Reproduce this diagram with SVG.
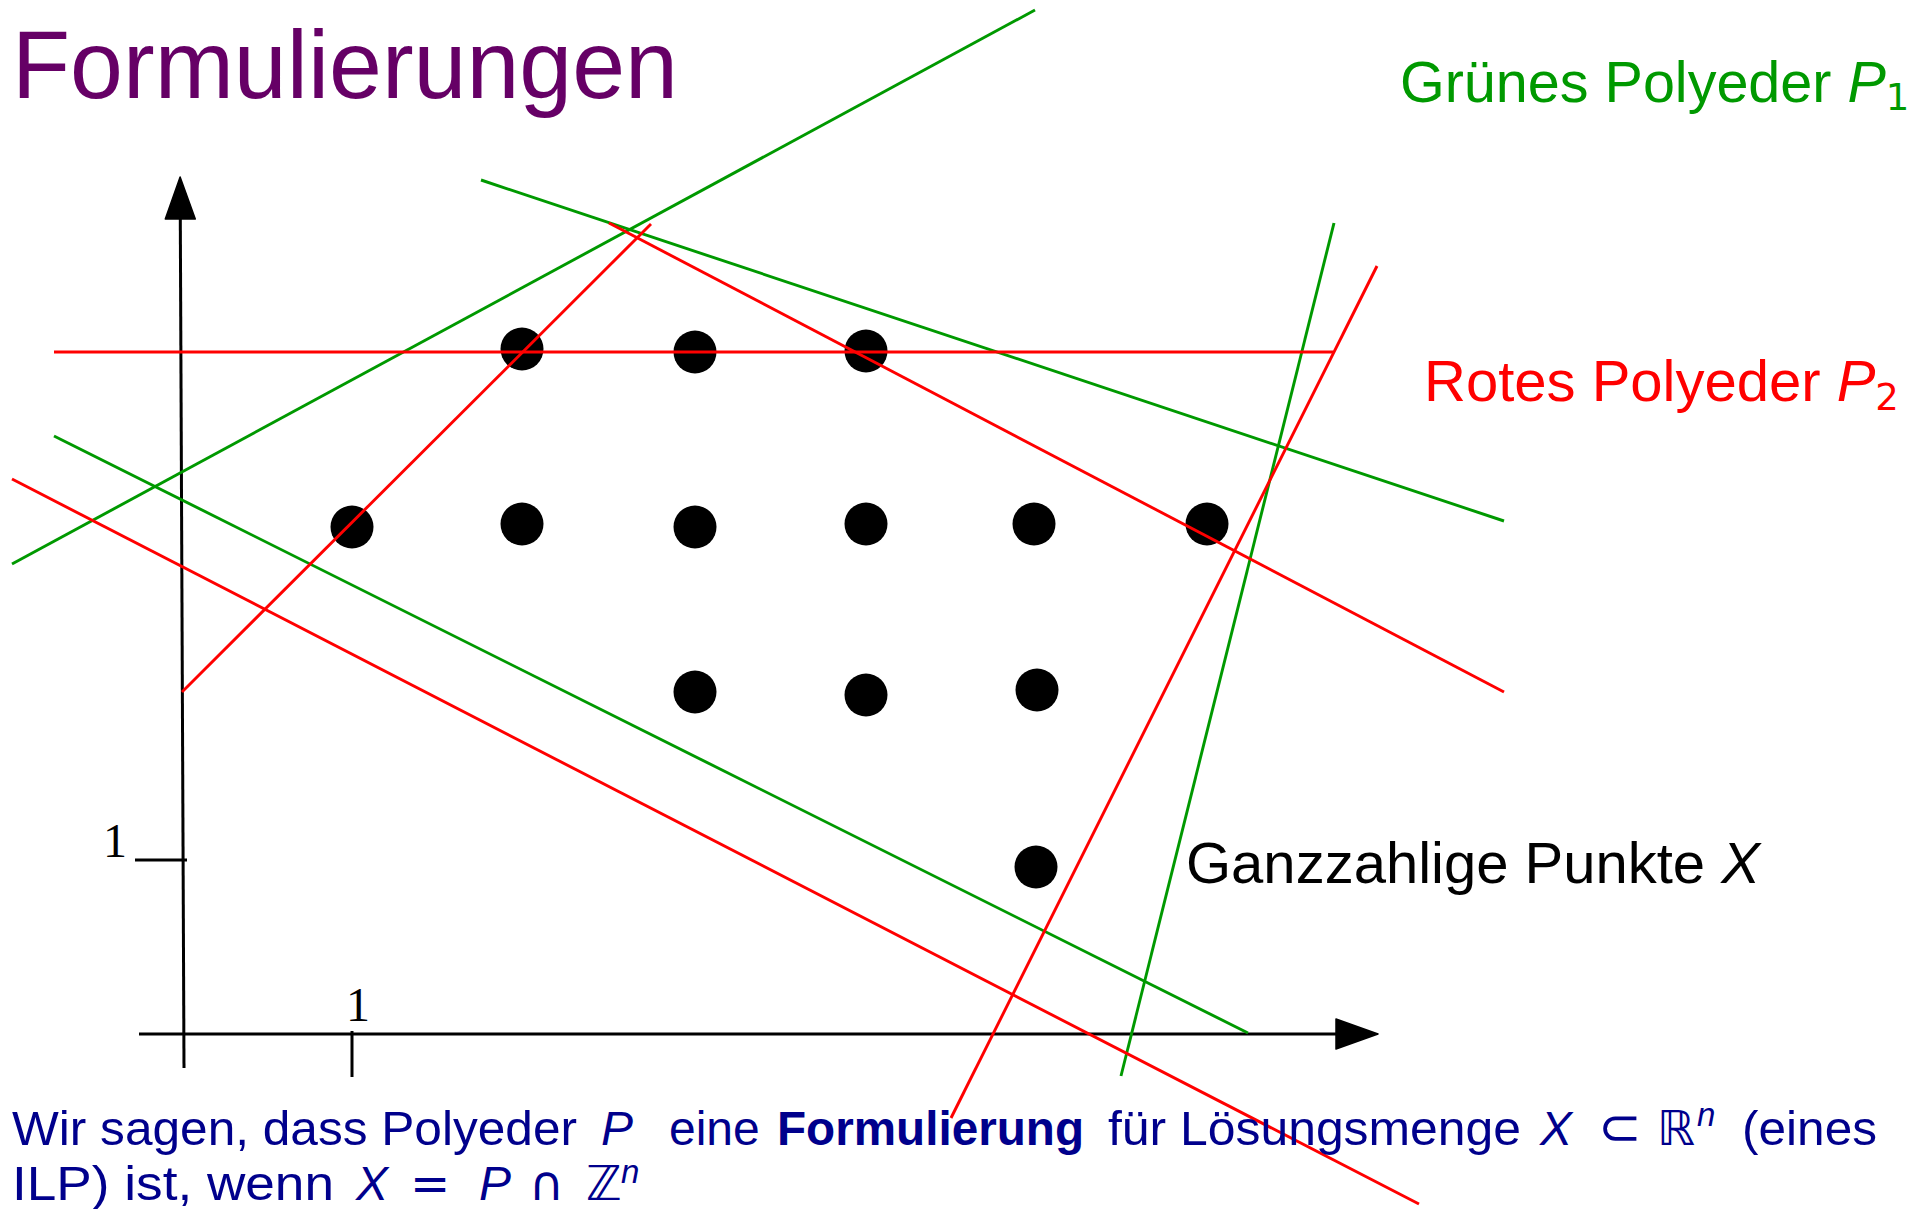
<svg xmlns="http://www.w3.org/2000/svg" width="1923" height="1209" viewBox="0 0 1923 1209">
<style>
  text { font-family: "Liberation Sans", Arial, sans-serif; }
  .serif { font-family: "Liberation Serif", "Times New Roman", serif; }
  .math { font-family: "DejaVu Sans", "Liberation Sans", sans-serif; }
  .it { font-style: italic; }
  .bf { font-weight: bold; }
  .axis { stroke: #000; stroke-width: 3; fill: none; }
  .g { stroke: #009900; stroke-width: 2.9; fill: none; }
  .r { stroke: #ff0000; stroke-width: 2.9; fill: none; }
  .dot { fill: #000; }
</style>
<defs>
  <marker id="arrow" markerUnits="userSpaceOnUse" markerWidth="44" markerHeight="32" refX="0" refY="15" orient="auto" overflow="visible">
    <path d="M0,0 L42,15 L0,30 Z" fill="#000" stroke="#000" stroke-width="1.5" stroke-linejoin="round"/>
  </marker>
</defs>
<rect width="1923" height="1209" fill="#fff"/>

<g id="title">
  <text x="12" y="98" font-size="96" fill="#660066" textLength="666" lengthAdjust="spacingAndGlyphs">Formulierungen</text>
</g>

<g id="axes">
  <line class="axis" x1="139" y1="1034" x2="1336" y2="1034" marker-end="url(#arrow)"/>
  <line class="axis" x1="184" y1="1068" x2="180.3" y2="219" marker-end="url(#arrow)"/>
  <line class="axis" x1="352" y1="1031" x2="352" y2="1077"/>
  <line class="axis" x1="135" y1="860" x2="187" y2="860"/>
  <text class="serif" x="358" y="1021" font-size="48" text-anchor="middle">1</text>
  <text class="serif" x="115" y="857" font-size="48" text-anchor="middle">1</text>
</g>

<g id="points">
  <circle class="dot" cx="522" cy="349" r="21.5"/>
  <circle class="dot" cx="695" cy="352" r="21.5"/>
  <circle class="dot" cx="866" cy="351" r="21.5"/>
  <circle class="dot" cx="352" cy="527" r="21.5"/>
  <circle class="dot" cx="522" cy="524" r="21.5"/>
  <circle class="dot" cx="695" cy="527" r="21.5"/>
  <circle class="dot" cx="866" cy="524" r="21.5"/>
  <circle class="dot" cx="1034" cy="524" r="21.5"/>
  <circle class="dot" cx="1207" cy="524" r="21.5"/>
  <circle class="dot" cx="695" cy="692" r="21.5"/>
  <circle class="dot" cx="866" cy="695" r="21.5"/>
  <circle class="dot" cx="1037" cy="690" r="21.5"/>
  <circle class="dot" cx="1036" cy="867" r="21.5"/>
</g>

<g id="connectors">
  <g id="green-polyhedron">
    <line class="g" x1="12" y1="564" x2="1035" y2="10"/>
    <line class="g" x1="481" y1="180" x2="1504" y2="521"/>
    <line class="g" x1="54" y1="436" x2="1248" y2="1033"/>
    <line class="g" x1="1334" y1="223" x2="1121" y2="1076"/>
  </g>
  <g id="red-polyhedron">
    <line class="r" x1="54" y1="352" x2="1333" y2="352"/>
    <line class="r" x1="182" y1="692" x2="651" y2="224"/>
    <line class="r" x1="609" y1="223" x2="1504" y2="692"/>
    <line class="r" x1="12" y1="479" x2="1419" y2="1204"/>
    <line class="r" x1="1377" y1="266" x2="951" y2="1118"/>
  </g>
</g>

<g id="label-green">
  <text x="1400" y="102" font-size="57.5" fill="#009900">Grünes Polyeder <tspan class="it">P</tspan><tspan class="math" font-size="37" dy="8">1</tspan></text>
</g>
<g id="label-red">
  <text x="1424" y="401" font-size="58" fill="#ff0000">Rotes Polyeder <tspan class="it">P</tspan><tspan class="math" font-size="37" dy="9">2</tspan></text>
</g>
<g id="label-points">
  <text x="1186" y="883" font-size="58" fill="#000">Ganzzahlige Punkte <tspan class="it">X</tspan></text>
</g>

<g id="definition" fill="#00008c" font-size="48">
  <text y="1145"><tspan x="12" textLength="565" lengthAdjust="spacingAndGlyphs">Wir sagen, dass Polyeder</tspan><tspan class="it" x="601">P</tspan><tspan x="669">eine</tspan><tspan class="bf" x="777" textLength="307" lengthAdjust="spacingAndGlyphs">Formulierung</tspan><tspan x="1108" textLength="413" lengthAdjust="spacingAndGlyphs">für Lösungsmenge</tspan><tspan class="it" x="1540">X</tspan><tspan class="math" x="1598" font-size="52">⊂</tspan><tspan class="math" x="1657">ℝ</tspan><tspan class="it" x="1697" dy="-19" font-size="33">n</tspan><tspan x="1742" dy="19" textLength="135" lengthAdjust="spacingAndGlyphs">(eines</tspan></text>
  <text y="1200"><tspan x="12" textLength="322" lengthAdjust="spacingAndGlyphs">ILP) ist, wenn</tspan><tspan class="it" x="356">X</tspan><tspan class="math" x="410">=</tspan><tspan class="it" x="479">P</tspan><tspan class="math" x="529">∩</tspan><tspan class="math" x="586">ℤ</tspan><tspan class="it" x="621" dy="-17" font-size="33">n</tspan></text>
</g>
</svg>
